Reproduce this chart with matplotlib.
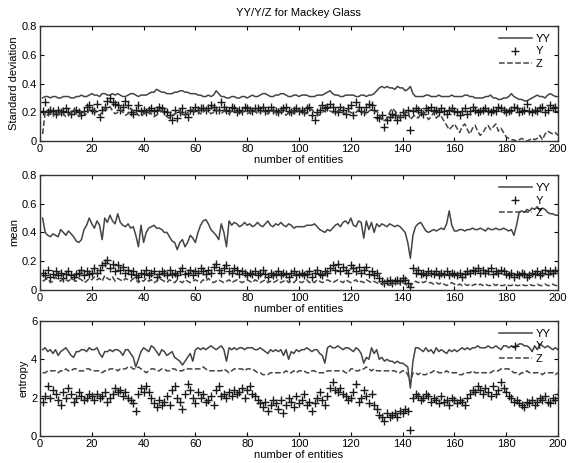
import matplotlib
matplotlib.use("Agg")
import matplotlib.pyplot as plt
import numpy as np

plt.rcParams['font.family'] = ['Liberation Sans', 'DejaVu Sans']
plt.rcParams['font.size'] = 8

# values, entity 1..200
yy_std = [.30,.31,.31,.30,.31,.31,.30,.30,.31,.31,
          .31,.30,.30,.31,.31,.32,.31,.31,.32,.33,
          .32,.32,.31,.33,.33,.32,.32,.33,.32,.33,
          .32,.31,.31,.32,.33,.33,.32,.31,.32,.32,
          .32,.33,.34,.34,.36,.35,.34,.34,.33,.33,
          .33,.34,.34,.35,.35,.34,.34,.33,.33,.33,
          .32,.32,.31,.31,.32,.31,.32,.35,.33,.31,
          .31,.30,.30,.31,.31,.30,.30,.31,.31,.30,
          .31,.32,.31,.31,.32,.33,.33,.32,.31,.31,
          .32,.32,.33,.33,.32,.31,.31,.32,.32,.31,
          .32,.32,.32,.31,.31,.31,.32,.32,.32,.33,
          .34,.35,.33,.32,.32,.31,.31,.32,.32,.32,
          .32,.31,.31,.32,.32,.31,.32,.32,.33,.35,
          .37,.38,.37,.38,.37,.37,.36,.38,.37,.37,
          .35,.36,.38,.33,.31,.31,.31,.31,.32,.32,
          .31,.31,.31,.32,.31,.31,.31,.31,.32,.31,
          .31,.31,.31,.32,.32,.31,.31,.30,.30,.30,
          .30,.31,.31,.32,.30,.30,.29,.29,.30,.30,
          .31,.33,.31,.30,.29,.29,.28,.28,.29,.30,
          .31,.32,.31,.31,.30,.32,.33,.32,.31,.31]
y_std = [.21,.27,.20,.22,.21,.19,.22,.20,.21,.23,
         .20,.19,.21,.22,.20,.18,.21,.24,.25,.22,
         .21,.26,.17,.22,.24,.28,.30,.27,.26,.25,
         .22,.24,.28,.25,.20,.19,.22,.25,.21,.22,
         .20,.22,.23,.21,.22,.24,.23,.21,.20,.18,
         .15,.22,.16,.20,.23,.19,.17,.22,.21,.24,
         .22,.23,.23,.22,.23,.25,.24,.22,.22,.27,
         .24,.22,.21,.24,.23,.20,.22,.21,.24,.23,
         .22,.21,.23,.23,.22,.24,.21,.22,.24,.22,
         .21,.20,.22,.23,.24,.21,.20,.22,.23,.21,
         .22,.20,.23,.24,.18,.15,.20,.22,.25,.23,
         .24,.26,.24,.21,.20,.24,.22,.19,.23,.25,
         .18,.27,.24,.21,.20,.24,.26,.25,.22,.17,
         .16,.18,.10,.15,.17,.19,.18,.15,.17,.20,
         .18,.22,.08,.21,.23,.22,.20,.19,.23,.22,
         .24,.21,.22,.20,.23,.21,.19,.22,.23,.21,
         .20,.18,.21,.23,.19,.21,.24,.22,.20,.21,
         .22,.23,.21,.20,.22,.21,.24,.23,.22,.20,
         .21,.22,.24,.23,.20,.21,.22,.26,.21,.20,
         .22,.21,.23,.24,.20,.22,.25,.23,.24,.21]
z_std = [.05,.20,.18,.19,.17,.20,.18,.21,.19,.17,
         .18,.20,.22,.19,.17,.21,.20,.18,.22,.23,
         .21,.19,.18,.20,.23,.22,.24,.21,.19,.20,
         .22,.20,.18,.19,.23,.21,.20,.18,.17,.19,
         .21,.20,.19,.17,.18,.20,.21,.19,.17,.16,
         .18,.19,.20,.21,.19,.18,.20,.21,.22,.20,
         .21,.19,.20,.22,.21,.19,.20,.22,.21,.19,
         .21,.20,.19,.21,.22,.20,.19,.20,.21,.19,
         .20,.22,.21,.19,.20,.21,.20,.19,.21,.22,
         .20,.19,.21,.20,.18,.20,.21,.19,.20,.22,
         .21,.20,.19,.21,.22,.20,.19,.18,.20,.21,
         .22,.21,.20,.19,.21,.22,.20,.19,.21,.20,
         .19,.20,.22,.21,.20,.19,.21,.22,.20,.21,
         .18,.15,.14,.16,.20,.23,.21,.19,.16,.17,
         .20,.21,.15,.17,.18,.16,.19,.20,.18,.15,
         .17,.20,.16,.18,.17,.14,.11,.08,.10,.12,
         .09,.06,.10,.12,.08,.05,.09,.11,.07,.04,
         .06,.09,.11,.08,.10,.12,.07,.09,.06,.03,
         .02,.01,.01,.00,.01,.02,.01,.00,.01,.02,
         .01,.02,.04,.01,.05,.07,.06,.05,.06,.04]

yy_mean = [.50,.40,.38,.37,.39,.38,.37,.42,.40,.38,
           .41,.39,.37,.34,.33,.35,.42,.45,.50,.46,
           .43,.48,.45,.35,.50,.47,.52,.48,.46,.53,
           .47,.45,.44,.46,.43,.44,.38,.30,.45,.33,
           .40,.43,.44,.45,.43,.43,.42,.40,.40,.37,
           .34,.33,.28,.33,.35,.30,.33,.38,.36,.33,
           .40,.45,.48,.49,.46,.42,.40,.38,.35,.46,
           .40,.30,.48,.45,.47,.46,.44,.45,.47,.45,
           .46,.44,.45,.47,.45,.44,.46,.48,.45,.44,
           .46,.45,.47,.45,.44,.46,.45,.43,.44,.44,
           .44,.44,.45,.45,.45,.46,.44,.42,.41,.40,
           .42,.41,.43,.45,.46,.44,.47,.48,.46,.50,
           .45,.44,.48,.47,.36,.48,.42,.47,.40,.46,
           .44,.46,.45,.44,.46,.45,.44,.45,.44,.42,
           .40,.33,.22,.38,.44,.46,.47,.44,.41,.40,
           .41,.42,.41,.42,.43,.42,.46,.55,.45,.41,
           .41,.42,.42,.41,.42,.42,.43,.42,.42,.43,
           .42,.41,.43,.42,.42,.43,.42,.42,.43,.42,
           .41,.42,.38,.45,.54,.55,.54,.56,.55,.57,
           .56,.58,.55,.57,.56,.54,.53,.53,.52,.52]
y_mean = [.12,.10,.14,.09,.11,.13,.10,.12,.08,.11,
          .13,.10,.09,.11,.12,.14,.10,.13,.11,.12,
          .15,.12,.14,.17,.19,.21,.15,.18,.13,.17,
          .14,.16,.12,.14,.11,.13,.10,.09,.12,.11,
          .14,.10,.12,.13,.09,.11,.13,.12,.10,.14,
          .11,.12,.10,.13,.15,.11,.12,.14,.10,.13,
          .12,.15,.13,.11,.14,.12,.16,.18,.14,.12,
          .15,.17,.13,.12,.15,.14,.11,.13,.12,.10,
          .12,.11,.13,.10,.12,.14,.11,.09,.12,.10,
          .11,.13,.10,.12,.11,.09,.12,.13,.10,.11,
          .12,.10,.11,.13,.09,.12,.14,.11,.10,.13,
          .12,.15,.17,.14,.18,.13,.16,.14,.12,.17,
          .15,.13,.16,.12,.14,.16,.11,.13,.10,.12,
          .08,.06,.05,.06,.07,.05,.06,.07,.06,.08,
          .07,.05,.02,.15,.12,.14,.11,.12,.10,.13,
          .12,.11,.13,.10,.12,.11,.13,.10,.12,.11,
          .10,.12,.09,.11,.13,.12,.14,.13,.15,.12,
          .14,.12,.13,.15,.11,.13,.12,.14,.13,.11,
          .10,.12,.09,.11,.10,.12,.11,.09,.10,.12,
          .11,.13,.10,.12,.14,.11,.13,.12,.14,.13]
z_mean = [.06,.07,.08,.05,.06,.09,.07,.06,.08,.07,
          .06,.08,.07,.06,.08,.07,.05,.06,.08,.07,
          .09,.07,.08,.06,.10,.08,.07,.09,.06,.08,
          .07,.06,.08,.07,.06,.08,.07,.05,.07,.06,
          .08,.06,.07,.05,.06,.08,.07,.06,.05,.07,
          .06,.05,.07,.06,.05,.07,.06,.05,.06,.07,
          .06,.05,.07,.06,.08,.06,.05,.06,.07,.06,
          .05,.06,.07,.05,.06,.07,.06,.05,.06,.07,
          .06,.05,.07,.06,.05,.06,.07,.05,.06,.05,
          .06,.07,.05,.06,.07,.05,.06,.05,.07,.06,
          .05,.06,.07,.05,.06,.05,.07,.06,.05,.06,
          .07,.06,.05,.06,.07,.06,.05,.07,.06,.05,
          .06,.07,.05,.06,.05,.07,.06,.05,.06,.05,
          .04,.04,.05,.04,.03,.04,.04,.05,.04,.05,
          .04,.03,.02,.05,.06,.05,.06,.05,.06,.05,
          .05,.04,.05,.04,.05,.04,.03,.04,.05,.04,
          .03,.04,.03,.04,.03,.04,.03,.04,.03,.04,
          .03,.04,.03,.03,.04,.03,.04,.03,.03,.04,
          .03,.03,.04,.03,.03,.04,.03,.03,.04,.03,
          .03,.04,.03,.03,.04,.03,.03,.04,.03,.03]

yy_ent = [4.5,4.6,4.4,4.5,4.3,4.5,4.2,4.4,4.5,4.6,
          4.4,4.2,4.1,4.4,4.4,4.5,4.5,4.4,4.6,4.5,
          4.5,4.6,4.3,4.1,4.4,4.4,4.5,4.4,4.5,4.5,
          4.4,4.2,4.5,4.5,4.3,4.1,3.6,4.0,4.4,4.6,
          4.5,4.4,4.7,4.6,4.4,4.2,4.5,4.4,4.2,4.3,
          4.4,4.1,4.0,3.9,3.7,3.9,4.1,4.3,3.9,4.5,
          4.6,4.5,4.6,4.5,4.6,4.7,4.6,4.5,4.6,4.7,
          4.5,3.9,4.6,4.5,4.6,4.5,4.6,4.6,4.5,4.6,
          4.6,4.6,4.5,4.5,4.6,4.5,4.4,4.3,4.5,4.4,
          4.5,4.4,4.5,4.2,4.5,4.0,4.4,4.3,4.5,4.4,
          4.5,4.5,4.6,4.5,4.4,4.5,4.5,4.3,4.2,3.8,
          4.6,4.7,4.6,4.6,4.7,4.6,4.5,4.6,4.6,4.5,
          4.4,4.6,4.5,4.3,3.8,4.1,4.0,4.6,4.3,4.5,
          4.0,4.1,3.9,4.0,3.9,3.9,3.8,3.9,3.8,3.8,
          3.7,3.6,2.5,3.9,4.6,4.6,4.5,4.4,4.6,4.4,
          4.5,4.3,4.6,4.4,4.5,4.4,4.3,4.5,4.4,4.5,
          4.4,4.5,4.6,4.5,4.6,4.5,4.6,4.6,4.7,4.6,
          4.6,4.6,4.7,4.6,4.6,4.7,4.6,4.5,4.7,4.7,
          4.6,4.7,4.6,4.7,4.8,4.8,4.7,4.7,4.6,4.4,
          4.7,4.5,4.8,4.7,4.6,4.7,4.6,4.5,4.6,4.5]
y_ent = [1.8,2.1,2.6,2.0,2.4,2.2,1.9,1.6,2.3,2.0,
         2.5,2.2,1.8,2.0,2.3,2.1,1.9,2.0,2.2,2.1,
         1.9,2.2,2.0,2.1,2.3,1.8,2.0,2.2,2.5,2.3,
         2.4,2.1,2.3,2.0,1.9,1.7,1.3,2.2,2.5,2.3,
         2.6,2.3,2.0,1.7,1.5,1.9,1.6,1.8,2.1,1.6,
         2.4,2.6,2.0,1.8,1.4,2.2,2.7,2.4,2.0,1.7,
         2.3,2.0,2.2,1.8,1.9,2.1,1.6,2.4,2.6,2.1,
         2.2,2.0,2.3,2.1,2.4,2.2,2.3,2.5,2.0,2.4,
         2.6,2.2,2.1,1.9,1.7,1.5,1.8,1.3,1.6,1.9,
         1.7,1.4,1.9,1.2,1.6,2.0,1.8,1.5,2.1,1.7,
         1.9,2.2,1.6,1.8,1.3,1.7,2.0,2.3,1.9,1.6,
         2.1,2.5,2.8,2.4,2.3,2.5,2.2,2.1,1.9,2.0,
         2.3,2.7,1.8,2.0,2.4,2.1,1.7,2.2,1.6,1.4,
         1.1,1.0,0.8,1.2,1.0,1.1,1.2,1.0,1.3,1.2,
         1.4,1.3,0.3,2.0,2.2,2.1,1.9,2.0,2.2,2.1,
         1.8,2.0,1.9,1.7,2.1,1.8,1.9,1.6,2.0,1.9,
         1.7,1.9,1.8,1.6,2.0,2.2,2.4,2.3,2.6,2.4,
         2.2,2.5,2.3,2.1,2.6,2.2,2.4,2.8,2.5,2.3,
         2.1,2.0,1.8,1.9,1.7,1.6,1.5,1.8,1.7,1.9,
         1.6,1.8,2.0,1.9,2.1,1.8,1.7,2.0,1.9,2.2]
z_ent = [3.3,3.3,3.4,3.4,3.4,3.4,3.3,3.4,3.4,3.5,
         3.4,3.4,3.5,3.5,3.4,3.4,3.4,3.5,3.5,3.4,
         3.4,3.4,3.4,3.3,3.4,3.4,3.5,3.5,3.5,3.4,
         3.5,3.5,3.5,3.6,3.6,3.5,3.5,3.6,3.5,3.4,
         3.3,3.4,3.5,3.5,3.4,3.4,3.5,3.5,3.4,3.4,
         3.5,3.5,3.4,3.4,3.4,3.5,3.5,3.5,3.5,3.5,
         3.5,3.5,3.6,3.5,3.4,3.4,3.4,3.4,3.4,3.4,
         3.5,3.4,3.3,3.4,3.5,3.5,3.5,3.5,3.4,3.5,
         3.5,3.5,3.4,3.3,3.3,3.2,3.2,3.2,3.3,3.3,
         3.3,3.3,3.3,3.3,3.4,3.3,3.3,3.4,3.3,3.4,
         3.4,3.4,3.3,3.3,3.4,3.4,3.3,3.3,3.3,3.3,
         3.4,3.4,3.4,3.4,3.4,3.4,3.4,3.3,3.3,3.5,
         3.5,3.4,3.4,3.5,3.5,3.6,3.5,3.4,3.5,3.4,
         3.4,3.4,3.4,3.4,3.4,3.4,3.4,3.3,3.3,3.4,
         3.4,3.2,2.8,3.3,3.3,3.2,3.3,3.2,3.2,3.3,
         3.3,3.4,3.4,3.3,3.3,3.3,3.4,3.3,3.3,3.3,
         3.3,3.2,3.2,3.3,3.3,3.3,3.4,3.3,3.3,3.3,
         3.3,3.3,3.3,3.3,3.4,3.4,3.4,3.5,3.5,3.5,
         3.5,3.4,3.3,3.3,3.2,3.3,3.3,3.4,3.3,3.3,
         3.3,3.3,3.3,3.2,3.3,3.3,3.3,3.3,3.2,3.3]

panels = [
    ('Standard deviation', yy_std, y_std, z_std, [0, 0.8], [0, 0.2, 0.4, 0.6, 0.8]),
    ('mean', yy_mean, y_mean, z_mean, [0, 0.8], [0, 0.2, 0.4, 0.6, 0.8]),
    ('entropy', yy_ent, y_ent, z_ent, [0, 6], [0, 2, 4, 6]),
]
# axes boxes as fractions of the figure
boxes = [[0.0697, 0.695, 0.9024, 0.249],
         [0.0697, 0.374, 0.9024, 0.248],
         [0.0697, 0.058, 0.9024, 0.249]]

fig = plt.figure(figsize=(5.74, 4.63), dpi=100)
x = np.arange(1, 201)
line_col = '#444444'

for (ylab, yy, y, z, ylim, yticks), box in zip(panels, boxes):
    ax = fig.add_axes(box)
    ax.plot(x, yy, '-', color=line_col, lw=1.1, label='YY')
    ax.plot(x, y, '+', color='#1a1a1a', ms=6, mew=1.0, label='Y')
    ax.plot(x, z, '--', color=line_col, lw=1.1, label='Z')
    ax.set_xlim(0, 200)
    ax.set_ylim(ylim)
    ax.set_xticks(range(0, 201, 20))
    ax.set_yticks(yticks)
    ax.set_yticklabels([f'{t:g}' for t in yticks])
    ax.tick_params(direction='in', top=True, right=True, length=3, width=0.8, pad=2)
    for s in ax.spines.values():
        s.set_linewidth(1.0)
        s.set_color('#333333')
    ax.set_xlabel('number of entities', labelpad=1)
    ax.set_ylabel(ylab, labelpad=2)
    ax.legend(loc='upper right', frameon=False, handlelength=3, handletextpad=0.3,
              borderaxespad=0.3, labelspacing=0.25)

fig.text(0.52, 0.972, 'YY/Y/Z for Mackey Glass', ha='center', va='center', fontsize=8)
fig.savefig('out.png', dpi=100)
